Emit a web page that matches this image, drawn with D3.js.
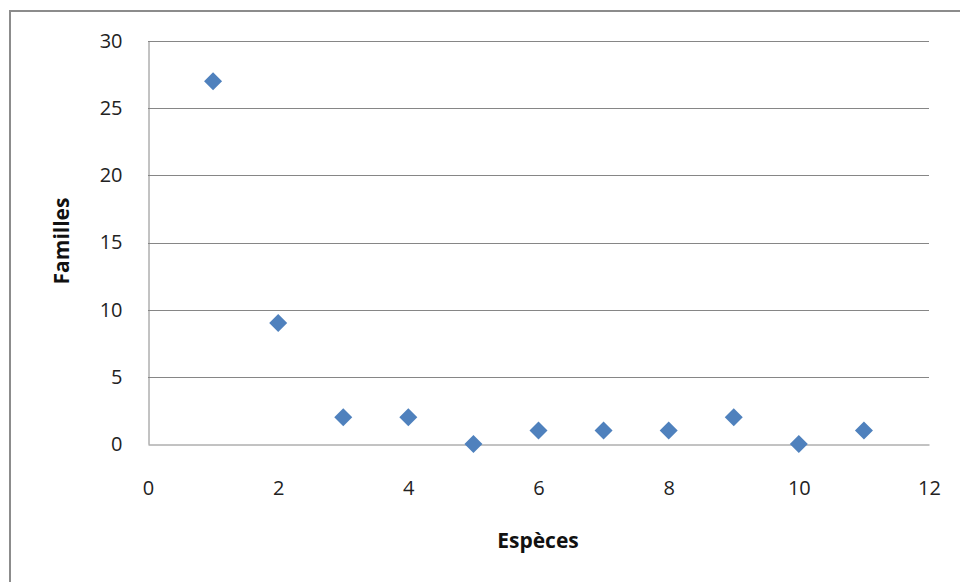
<!DOCTYPE html>
<html><head><meta charset="utf-8">
<script src="https://cdn.jsdelivr.net/npm/d3@7"></script>
<style>body{margin:0;background:#fff}svg{display:block}</style>
</head><body>
<script>
const xValues = [1,2,3,4,5,6,7,8,9,10,11];
const yValues = [27,9,2,2,0,1,1,1,2,0,1];
const xTicks = [0,2,4,6,8,10,12];
const yTicks = [0,5,10,15,20,25,30];
const xTitle = "Espèces";
const yTitle = "Familles";

const W=960,H=582;
const svg=d3.select("body").append("svg").attr("width",W).attr("height",H);
const font="'Open Sans', Calibri, sans-serif";
svg.append("path").attr("d",`M10,${H} L10,11 L${W},11`).attr("fill","none").attr("stroke","#8c8c8c").attr("stroke-width",2);

const x=d3.scaleLinear().domain([0,12]).range([148,929]);
const y=d3.scaleLinear().domain([0,30]).range([444,41]);

svg.append("g").selectAll("line").data(yTicks.filter(d=>d>0)).join("line")
 .attr("x1",x(0)).attr("x2",x(12)).attr("y1",d=>Math.round(y(d))+0.5).attr("y2",d=>Math.round(y(d))+0.5)
 .attr("stroke","#868686").attr("stroke-width",1);

const ya=svg.append("g").attr("transform",`translate(${x(0)+0.5},0)`).call(d3.axisLeft(y).tickValues(yTicks).tickSize(0).tickPadding(26));
const xa=svg.append("g").attr("transform",`translate(0,${y(0)+0.5})`).call(d3.axisBottom(x).tickValues(xTicks).tickSize(0).tickPadding(36));
[ya,xa].forEach(a=>{a.select(".domain").attr("stroke","#868686");a.selectAll("text").attr("font-family",font).attr("font-size",20).attr("fill","#222");});

svg.append("text").attr("x",538).attr("y",548).attr("text-anchor","middle").attr("font-family",font).attr("font-weight","bold").attr("font-size",21).attr("fill","#111").text(xTitle);
svg.append("text").attr("transform","translate(69,241) rotate(-90)").attr("text-anchor","middle").attr("font-family",font).attr("font-weight","bold").attr("font-size",21).attr("fill","#111").text(yTitle);

const pts=xValues.map((v,i)=>({x:v,y:yValues[i]}));
svg.append("g").selectAll("path").data(pts).join("path")
 .attr("transform",d=>`translate(${x(d.x)},${y(d.y)})`)
 .attr("d","M0,-9 L9,0 L0,9 L-9,0 Z").attr("fill","#4f81bd");
</script>
</body></html>
